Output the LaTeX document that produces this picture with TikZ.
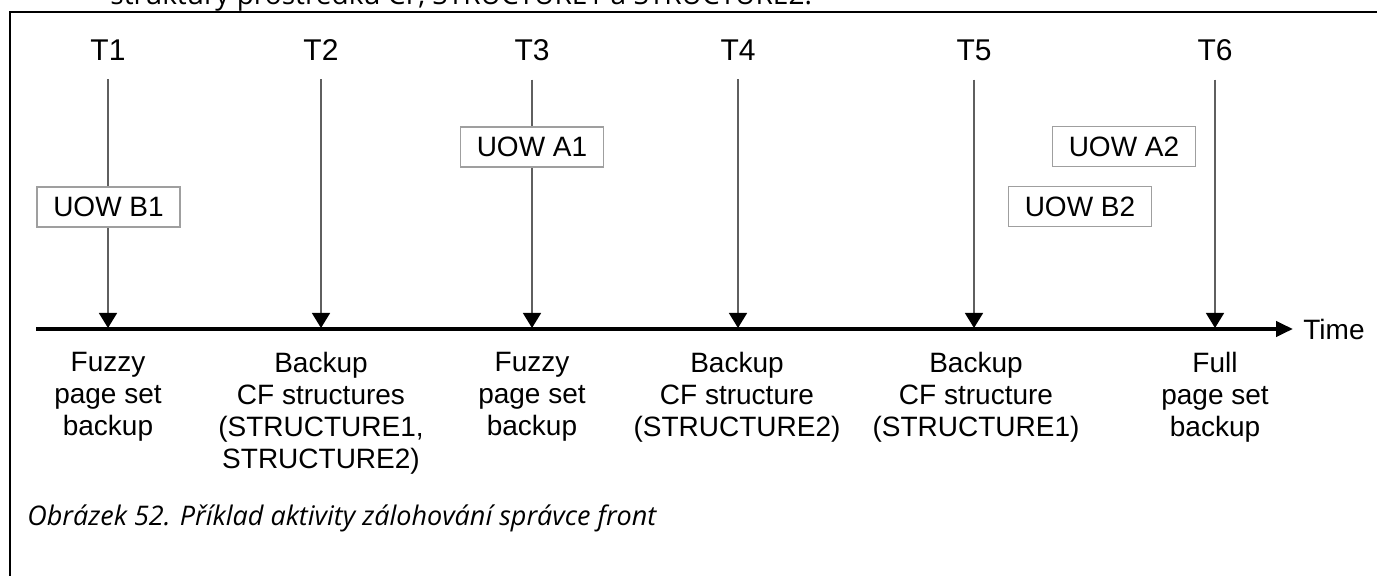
\documentclass[tikz,border=0pt]{standalone}
\usepackage{fontspec}
\setmainfont{Liberation Sans}
\newfontfamily\capfont{Open Sans}
\usetikzlibrary{positioning,arrows.meta,calc}
\definecolor{tickgray}{RGB}{95,95,95}

\begin{document}
\begin{tikzpicture}[
    x=0.5pt, y=-0.5pt,
    tlabel/.style={inner sep=0pt, anchor=base, font=\fontsize{15}{15}\selectfont},
    evlabel/.style={inner sep=0pt, anchor=north, align=center,
      font=\fontsize{14}{16}\selectfont},
    uow/.style={rectangle, draw=gray!75, fill=white, line width=0.6pt,
      minimum width=71.5pt, minimum height=20pt, inner sep=0pt,
      font=\fontsize{14}{14}\selectfont},
    tick/.style={-{Triangle[length=7.5pt,width=9pt,black]}, draw=tickgray,
      line width=0.7pt, shorten <=9pt},
    axis/.style={-{Triangle[length=8.5pt,width=7.5pt]}, line width=2pt}
  ]
    \useasboundingbox (0,0) rectangle (1377,576);
    \clip (0,0) rectangle (1377,576);

    % page frame and the cut-off line above it
    \draw[line width=1.2pt] (10,700) -- (10,12) -- (1500,12);
    \node[anchor=base west, inner sep=0pt, font=\capfont\fontsize{14}{14}\selectfont]
      (head) at (110,5) {struktury prostředku CF, STRUCTURE1 a STRUCTURE2.};

    % time axis
    \coordinate (axstart) at (36,329);
    \node[anchor=base west, inner sep=0pt, font=\fontsize{14}{14}\selectfont]
      (time) at (1303,340) {Time};
    \draw[axis] (axstart) -- ([xshift=-5pt]axstart -| time.west);

    % points in time
    \node[tlabel] (t1) at (108,61)  {T1};
    \node[tlabel] (t2) at (321,61)  {T2};
    \node[tlabel] (t3) at (532,61)  {T3};
    \node[tlabel] (t4) at (738,61)  {T4};
    \node[tlabel] (t5) at (974,61)  {T5};
    \node[tlabel] (t6) at (1215,61) {T6};

    \coordinate (a1) at (108,328);
    \coordinate (a2) at (321,328);
    \coordinate (a3) at (532,328);
    \coordinate (a4) at (738,328);
    \coordinate (a5) at (974,328);
    \coordinate (a6) at (1215,328);

    \draw[tick] (t1) -- (a1);
    \draw[tick] (t2) -- (a2);
    \draw[tick] (t3) -- (a3);
    \draw[tick] (t4) -- (a4);
    \draw[tick] (t5) -- (a5);
    \draw[tick] (t6) -- (a6);

    % units of work
    \node[uow] (uowb1) at (108.5,207)  {UOW B1};
    \node[uow] (uowa1) at (532,147)    {UOW A1};
    \node[uow] (uowa2) at (1124,146.5) {UOW A2};
    \node[uow] (uowb2) at (1080,206.5) {UOW B2};

    % backup activity
    \node[evlabel] (ev1) at (108,352)  {Fuzzy\\page set\\backup};
    \node[evlabel] (ev2) at (321,352)  {Backup\\CF structures\\(STRUCTURE1,\\STRUCTURE2)};
    \node[evlabel] (ev3) at (532,352)  {Fuzzy\\page set\\backup};
    \node[evlabel] (ev4) at (737,352)  {Backup\\CF structure\\(STRUCTURE2)};
    \node[evlabel] (ev5) at (976,352)  {Backup\\CF structure\\(STRUCTURE1)};
    \node[evlabel] (ev6) at (1215,352) {Full\\page set\\backup};

    % caption
    \node[anchor=base west, inner sep=0pt, font=\capfont\itshape\fontsize{13.5}{13.5}\selectfont]
      (caption) at (27,526) {Obrázek 52. Příklad aktivity zálohování správce front};
  \end{tikzpicture}
\end{document}
